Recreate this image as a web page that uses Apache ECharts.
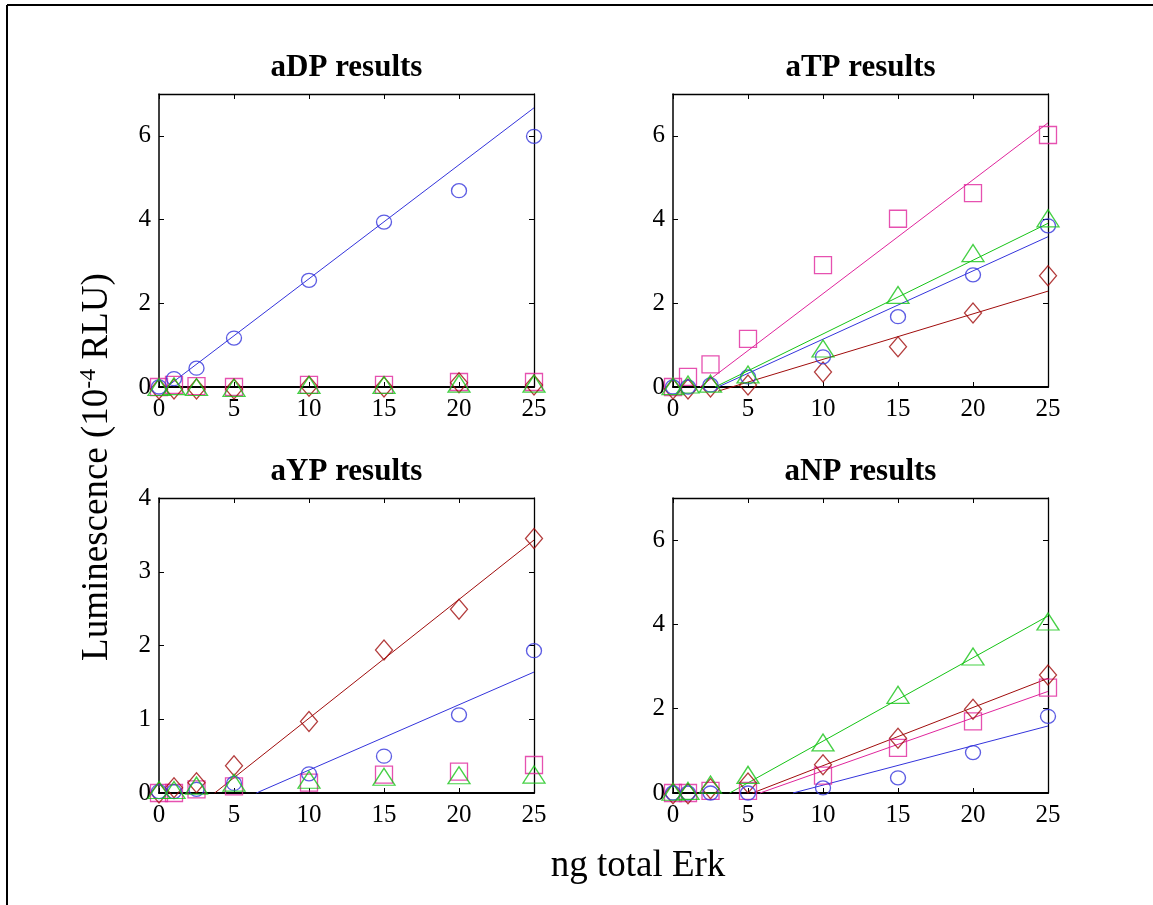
<!DOCTYPE html>
<html>
<head>
<meta charset="utf-8">
<title>Luminescence vs ng total Erk</title>
<script src="https://cdn.jsdelivr.net/npm/echarts@6/dist/echarts.min.js"></script>
<style>
  html, body { margin: 0; padding: 0; background: #fff; }
  #chart { width: 1153px; height: 905px; }
</style>
</head>
<body>
<div id="chart"></div>
<script>
// ng of total Erk loaded per well
const xVals = [0, 1, 2.5, 5, 10, 15, 20, 25];
const xTicks = [0, 5, 10, 15, 20, 25];
const yTicksTall = [0, 2, 4, 6];
const yTicksShort = [0, 1, 2, 3, 4];

// Luminescence (10^-4 RLU) for each antibody panel; four substrate series each
const dpCircle   = [0.0, 0.2, 0.45, 1.17, 2.55, 3.94, 4.69, 5.99];
const dpSquare   = [0.0, 0.05, 0.02, 0.0, 0.05, 0.05, 0.12, 0.12];
const dpDiamond  = [-0.05, -0.05, -0.05, -0.05, 0.02, 0.0, 0.1, 0.05];
const dpTriangle = [0.0, 0.02, 0.0, -0.02, 0.05, 0.05, 0.08, 0.08];
const dpFitCircle = [[0.5, 0], [25, 6.67]];

const tpCircle   = [0.0, 0.0, 0.05, 0.24, 0.72, 1.68, 2.68, 3.85];
const tpSquare   = [0.0, 0.24, 0.54, 1.15, 2.91, 4.02, 4.63, 6.02];
const tpDiamond  = [-0.05, -0.05, 0.0, 0.05, 0.36, 0.96, 1.77, 2.66];
const tpTriangle = [0.02, 0.06, 0.08, 0.3, 0.92, 2.2, 3.2, 4.03];
const tpFitCircle   = [[3.0, 0], [25, 3.59]];
const tpFitSquare   = [[1.8, 0], [25, 6.31]];
const tpFitDiamond  = [[3.0, -0.1], [25, 2.29]];
const tpFitTriangle = [[2.8, 0], [25, 3.91]];

const ypCircle   = [0.02, 0.02, 0.05, 0.13, 0.26, 0.50, 1.06, 1.93];
const ypSquare   = [0.0, 0.0, 0.05, 0.09, 0.14, 0.25, 0.29, 0.38];
const ypDiamond  = [0.0, 0.07, 0.14, 0.37, 0.97, 1.94, 2.49, 3.45];
const ypTriangle = [0.04, 0.04, 0.1, 0.14, 0.18, 0.22, 0.24, 0.25];
const ypFitCircle  = [[6.49, 0], [25, 1.64]];
const ypFitDiamond = [[3.71, 0], [25, 3.43]];

const npCircle   = [0.0, 0.0, 0.0, 0.0, 0.12, 0.36, 0.96, 1.82];
const npSquare   = [0.0, 0.0, 0.05, 0.05, 0.41, 1.07, 1.70, 2.50];
const npDiamond  = [-0.02, -0.02, 0.1, 0.24, 0.67, 1.3, 1.99, 2.80];
const npTriangle = [0.03, 0.05, 0.2, 0.43, 1.2, 2.33, 3.24, 4.07];
const npFitCircle   = [[8.0, 0], [25, 1.59]];
const npFitSquare   = [[5.8, 0], [25, 2.41]];
const npFitDiamond  = [[5.3, 0], [25, 2.72]];
const npFitTriangle = [[3.78, 0], [25, 4.2]];

const panelTitles = ['aDP results', 'aTP results', 'aYP results', 'aNP results'];
const yAxisTitle = 'Luminescence (10';
const yAxisExp = '-4';
const yAxisUnit = ' RLU)';
const xAxisTitle = 'ng total Erk';

const SERIF = '"Liberation Serif", "Times New Roman", serif';
const C_BLUE = '#3434dc';
const C_PINK = '#e0259c';
const C_GREEN = '#16c416';
const C_RED = '#a00c0c';

const MARK = {
  circle:   { symbol: 'circle',   size: [15, 14], color: C_BLUE },
  square:   { symbol: 'rect',     size: [17, 17], color: C_PINK },
  diamond:  { symbol: 'diamond',  size: [17, 20], color: C_RED },
  triangle: { symbol: 'triangle', size: [22, 17], color: C_GREEN }
};

// plot-area rectangles in pixels
const grids = [
  { left: 159, top: 94,  width: 375, height: 293 },
  { left: 673, top: 94,  width: 375, height: 293 },
  { left: 159, top: 498, width: 375, height: 295 },
  { left: 673, top: 498, width: 375, height: 295 }
];
const yMax = [7, 7, 4, 7];
const yTickSets = [yTicksTall, yTicksTall, yTicksShort, yTicksTall];

const panels = [
  { points: { circle: dpCircle, square: dpSquare, diamond: dpDiamond, triangle: dpTriangle },
    fits: { circle: dpFitCircle } },
  { points: { circle: tpCircle, square: tpSquare, diamond: tpDiamond, triangle: tpTriangle },
    fits: { square: tpFitSquare, triangle: tpFitTriangle, circle: tpFitCircle, diamond: tpFitDiamond } },
  { points: { circle: ypCircle, square: ypSquare, diamond: ypDiamond, triangle: ypTriangle },
    fits: { diamond: ypFitDiamond, circle: ypFitCircle } },
  { points: { circle: npCircle, square: npSquare, diamond: npDiamond, triangle: npTriangle },
    fits: { triangle: npFitTriangle, diamond: npFitDiamond, square: npFitSquare, circle: npFitCircle } }
];

const tickLabel = { fontFamily: SERIF, fontSize: 25, color: '#000' };

const xAxes = [], yAxes = [], series = [], graphics = [];

grids.forEach((g, i) => {
  // bottom axis with labels
  xAxes.push({
    gridIndex: i, type: 'value', min: 0, max: 25, position: 'bottom',
    axisLine: { show: true, onZero: false, lineStyle: { color: '#000', width: 2 } },
    axisTick: { show: true, inside: true, length: 5, customValues: xTicks, lineStyle: { color: '#000' } },
    axisLabel: Object.assign({ margin: 10, customValues: xTicks }, tickLabel),
    splitLine: { show: false }
  });
  // mirrored top ticks
  xAxes.push({
    gridIndex: i, type: 'value', min: 0, max: 25, position: 'top',
    axisLine: { show: true, onZero: false, lineStyle: { color: '#000', width: 1.3 } },
    axisTick: { show: true, inside: true, length: 5, customValues: xTicks, lineStyle: { color: '#000' } },
    axisLabel: { show: false },
    splitLine: { show: false }
  });
  yAxes.push({
    gridIndex: i, type: 'value', min: 0, max: yMax[i], position: 'left',
    axisLine: { show: true, onZero: false, lineStyle: { color: '#000', width: 1.5 } },
    axisTick: { show: true, inside: true, length: 5, customValues: yTickSets[i], lineStyle: { color: '#000' } },
    axisLabel: Object.assign({ margin: 8, customValues: yTickSets[i] }, tickLabel),
    splitLine: { show: false }
  });
  // mirrored right ticks
  yAxes.push({
    gridIndex: i, type: 'value', min: 0, max: yMax[i], position: 'right',
    axisLine: { show: true, onZero: false, lineStyle: { color: '#000', width: 1.3 } },
    axisTick: { show: true, inside: true, length: 5, customValues: yTickSets[i], lineStyle: { color: '#000' } },
    axisLabel: { show: false },
    splitLine: { show: false }
  });

  const xi = i * 2, yi = i * 2;
  const p = panels[i];
  Object.keys(p.fits).forEach(k => {
    series.push({
      type: 'line', xAxisIndex: xi, yAxisIndex: yi, data: p.fits[k],
      showSymbol: false, symbol: 'none', clip: false, silent: true, z: 2,
      lineStyle: { color: MARK[k].color, width: 1 }
    });
  });
  ['square', 'diamond', 'circle', 'triangle'].forEach(k => {
    const m = MARK[k];
    series.push({
      type: 'scatter', xAxisIndex: xi, yAxisIndex: yi, clip: false, z: 3,
      data: xVals.map((x, j) => [x, p.points[k][j]]),
      symbol: m.symbol, symbolSize: m.size,
      itemStyle: { color: 'rgba(0,0,0,0)', borderColor: m.color, borderWidth: 1.3 }
    });
  });

  graphics.push({
    type: 'text', x: g.left + g.width / 2, y: g.top - 26,
    style: { text: panelTitles[i], font: 'bold 31px ' + SERIF, fill: '#000',
             textAlign: 'center', textVerticalAlign: 'middle' }
  });
});

// page frame lines
graphics.push({ type: 'line', shape: { x1: 7, y1: 5, x2: 1153, y2: 5 }, style: { stroke: '#000', lineWidth: 2 } });
graphics.push({ type: 'line', shape: { x1: 7, y1: 5, x2: 7, y2: 905 }, style: { stroke: '#000', lineWidth: 2 } });

// shared axis titles
graphics.push({
  type: 'text', x: 97, y: 467, rotation: Math.PI / 2,
  style: {
    text: '{a|' + yAxisTitle + '}{s|' + yAxisExp + '}{a|' + yAxisUnit + '}',
    textAlign: 'center', textVerticalAlign: 'middle', fill: '#000',
    rich: {
      a: { fontFamily: SERIF, fontSize: 37, lineHeight: 40, fill: '#000' },
      s: { fontFamily: SERIF, fontSize: 24, lineHeight: 40, verticalAlign: 'top', fill: '#000', padding: [0, 0, 12, 0] }
    }
  }
});
graphics.push({
  type: 'text', x: 638, y: 866,
  style: { text: xAxisTitle, font: '37px ' + SERIF, fill: '#000', textAlign: 'center', textVerticalAlign: 'middle' }
});

const chart = echarts.init(document.getElementById('chart'));
chart.setOption({
  animation: false,
  backgroundColor: '#fff',
  grid: grids.map(g => Object.assign({ containLabel: false, show: false }, g)),
  xAxis: xAxes,
  yAxis: yAxes,
  series: series,
  graphic: graphics
});
</script>
</body>
</html>
